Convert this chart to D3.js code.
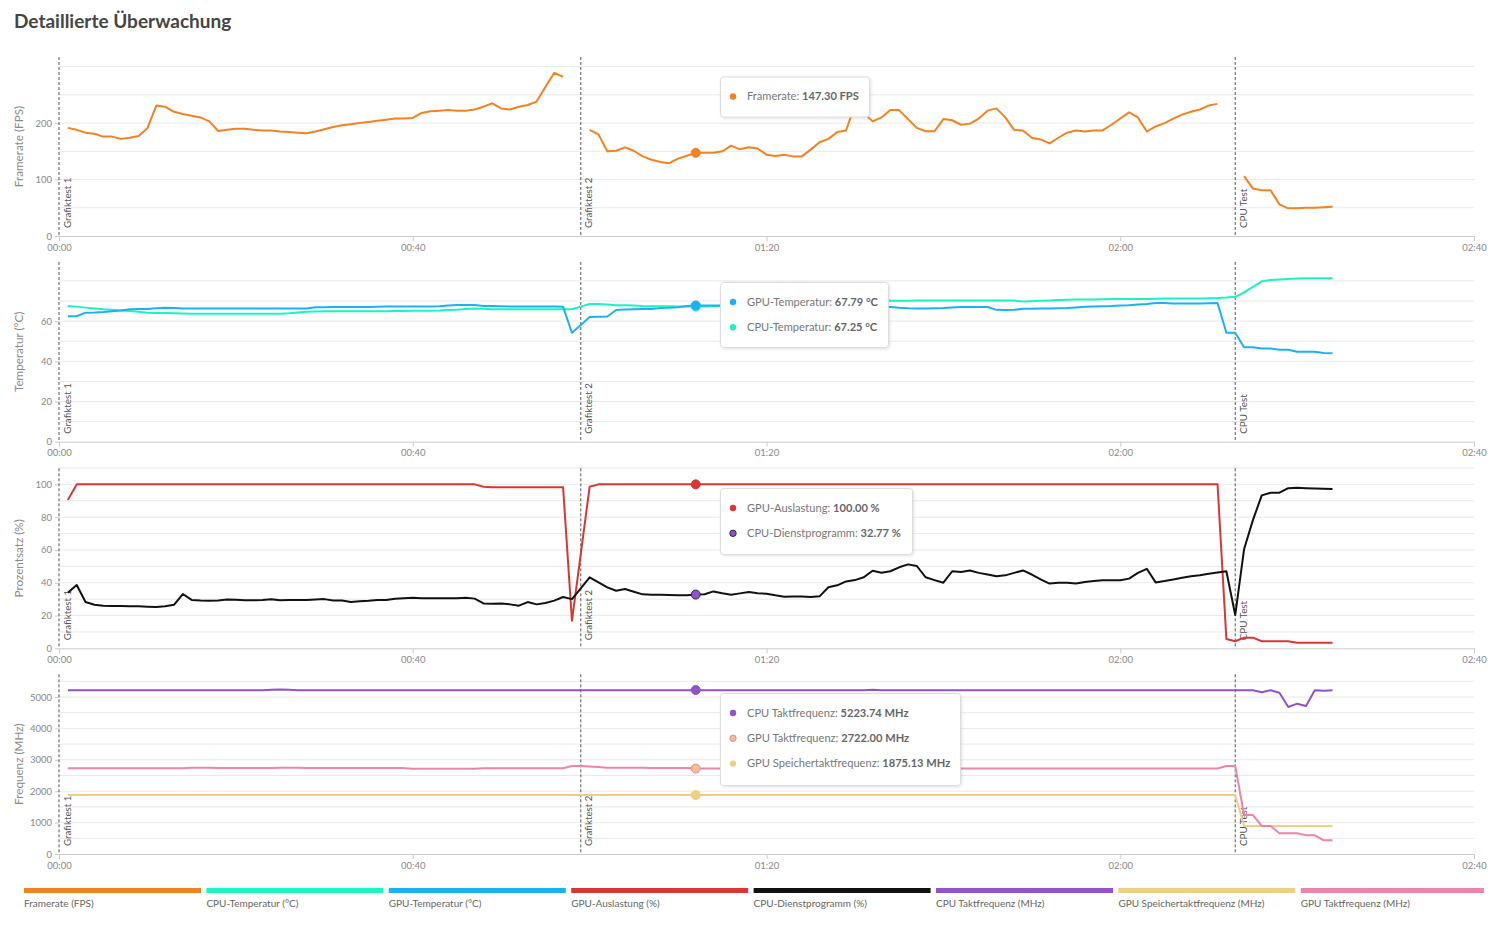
<!DOCTYPE html>
<html><head><meta charset="utf-8">
<script src="https://cdn.jsdelivr.net/npm/d3@7"></script>
<style>
body{margin:0;background:#fff;}
svg{display:block;}
text{font-family:Lato,"Open Sans",sans-serif;}
</style>
</head><body>
<svg id="chart" width="1507" height="928"></svg>
<script>
// ---------- DATA (one sample per second, first sample at t = 1 s) ----------
const firstSecond = 1;
const framerate = [191.5,188,183,181,176,176,172,174,177,191,
231,229,220,216,213,210,203,186,188,190,
190,188,187,187,185,184,183,182,185,189,
193,196,198,200,202,204,206,208,208,209,
218,221,222,223,222,222,224,229,235,226,
224,229,232,238,264,289,282,null,null,188,
180,150,151,157,151,141,135,131,129,137,
142,147.3,147.5,147.5,150,160,153.5,157,155,144,
141.5,144,141,141,153,166,172,184,187,232,
218,203,210,223,223,207,191.5,185.5,185.5,207,
205,197,199,208,222,226,210,188,187,174,
171,164,174,183,187,185,187,187,197,208,
219,210,185,194,200,208,215,220,224,231,
234,null,null,106,84,81,81,56,49,49,
50,50,51,52];
const cpuTemp = [67.5,67.2,66.7,66.3,65.9,65.6,65.3,65,64.6,64.2,
64,64,63.9,63.8,63.7,63.6,63.6,63.6,63.6,63.6,
63.6,63.6,63.6,63.6,63.7,63.9,64.3,64.6,64.8,64.9,
64.9,64.9,64.9,64.9,64.9,64.9,64.9,65,65,65.1,
65.1,65.2,65.3,65.5,65.7,66,66.3,66.1,65.9,65.9,
65.9,65.9,65.9,65.9,65.9,65.9,65.9,65.9,67.2,68.5,
68.5,68.2,67.9,67.9,67.8,67.5,67.4,67.4,67.4,67.3,
67.3,67.25,67.3,67.4,67.5,67.6,67.8,68,68.2,68.4,
68.6,68.8,69,69.2,69.4,69.5,69.6,69.7,69.8,69.9,
70,70,70,70.1,70.1,70.1,70.2,70.2,70.2,70.2,
70.2,70.2,70.2,70.2,70.2,70.2,70.2,70.2,69.7,69.9,
70.1,70.3,70.5,70.6,70.7,70.8,70.8,70.9,71,71,
71,71,71,71.1,71.2,71.2,71.3,71.3,71.3,71.4,
71.5,71.7,72.1,74.3,77,79.8,80.4,80.7,81,81.2,
81.3,81.3,81.3,81.3];
const gpuTemp = [62.4,62.4,64.2,64.3,64.5,64.9,65.3,65.9,66,66,
66.4,66.7,66.5,66.3,66.3,66.3,66.3,66.3,66.3,66.3,
66.3,66.3,66.3,66.3,66.3,66.3,66.3,66.3,66.9,66.9,
67,67,67,67,67,67.1,67.2,67.2,67.2,67.2,
67.2,67.2,67.4,67.8,68,68,68,67.5,67.5,67.4,
67.2,67.2,67.2,67.2,67.2,67.2,67.1,54.2,58,62,
62.2,62.3,65.5,65.8,65.9,66,66,66.5,66.6,66.9,
67.5,67.79,67.8,67.8,67.8,67.8,67.8,67.8,67.8,67.8,
67.7,67.6,67.6,67.6,67.6,67.6,67.6,67.5,67.5,67.5,
67.3,67.2,67,67,66.6,66.4,66.3,66.3,66.4,66.5,
66.8,67,67,67,67,65.6,65.5,65.6,66.1,66.2,
66.3,66.3,66.4,66.5,66.8,67.1,67.3,67.4,67.5,67.7,
67.9,68.2,68.5,69,69,68.8,68.7,68.7,68.8,68.9,
69,54.2,54.2,47,47,46.4,46.4,45.7,45.7,44.8,
44.8,44.8,44.1,44];
const gpuLoad = [90.4,100,100,100,100,100,100,100,100,100,
100,100,100,100,100,100,100,100,100,100,
100,100,100,100,100,100,100,100,100,100,
100,100,100,100,100,100,100,100,100,100,
100,100,100,100,100,100,100,98.6,98.2,98.2,
98.2,98.2,98.2,98.2,98.2,98.2,98.2,16.8,57.6,98.5,
100,100,100,100,100,100,100,100,100,100,
100,100,100,100,100,100,100,100,100,100,
100,100,100,100,100,100,100,100,100,100,
100,100,100,100,100,100,100,100,100,100,
100,100,100,100,100,100,100,100,100,100,
100,100,100,100,100,100,100,100,100,100,
100,100,100,100,100,100,100,100,100,100,
100,5.7,4.3,6.5,6.5,4.3,4.3,4.3,4.3,3.4,
3.4,3.4,3.4,3.4];
const cpuUtil = [33.9,38.6,28.2,26.6,26,25.8,25.8,25.7,25.6,25.4,
25.2,25.6,26.5,33.1,29.5,29.1,29,29.1,29.7,29.6,
29.3,29.3,29.5,29.9,29.3,29.4,29.4,29.4,29.8,30,
29.2,29.2,28.2,28.7,29,29.5,29.5,30.2,30.5,30.9,
30.6,30.6,30.6,30.6,30.5,30.8,30.3,27.4,27.2,27.4,
26.8,26,28.2,26.8,27.6,29.1,31.3,30,36.5,43.3,
40.2,37.2,35.1,36.2,34.5,32.9,32.7,32.6,32.5,32.3,
32.3,32.77,33,34.7,33.6,32.7,33.5,34.3,33.6,33.3,
32.3,31.5,31.6,31.6,31.3,31.7,37.2,38.4,40.8,41.6,
43.3,47.3,46.1,47,49.4,51.2,50.2,43.3,41.6,40,
47,46.5,47.5,46,45,44,44.5,46,47.5,45,
42,39.5,40,40,39.5,40.5,41,41.5,41.5,41.5,
42.5,46,48.5,40.2,41,42,43,44,44.5,45.5,
46.3,47,20.3,60.4,78.2,93.3,94.9,94.9,97.7,98,
97.7,97.5,97.3,97.1];
const cpuClock = [5215,5215,5215,5215,5215,5215,5215,5215,5215,5215,
5215,5215,5215,5215,5215,5215,5215,5215,5215,5215,
5215,5215,5215,5230,5238,5230,5215,5215,5215,5215,
5215,5215,5215,5215,5215,5215,5215,5215,5215,5215,
5215,5215,5215,5215,5215,5215,5215,5215,5215,5215,
5215,5215,5215,5215,5215,5215,5215,5215,5215,5215,
5215,5215,5215,5215,5215,5215,5215,5215,5215,5215,
5215,5223.74,5215,5215,5215,5215,5215,5215,5215,5215,
5215,5215,5215,5215,5215,5215,5215,5215,5215,5215,
5215,5228,5215,5215,5215,5215,5215,5215,5215,5215,
5215,5215,5215,5215,5215,5215,5215,5215,5215,5215,
5215,5215,5215,5215,5215,5215,5215,5215,5215,5215,
5215,5215,5215,5215,5215,5215,5215,5215,5215,5215,
5215,5215,5215,5215,5215,5150,5213,5137,4682,4788,
4713,5213,5200,5213];
const gpuMemClock = [1875.13,1875.13,1875.13,1875.13,1875.13,1875.13,1875.13,1875.13,1875.13,1875.13,
1875.13,1875.13,1875.13,1875.13,1875.13,1875.13,1875.13,1875.13,1875.13,1875.13,
1875.13,1875.13,1875.13,1875.13,1875.13,1875.13,1875.13,1875.13,1875.13,1875.13,
1875.13,1875.13,1875.13,1875.13,1875.13,1875.13,1875.13,1875.13,1875.13,1875.13,
1875.13,1875.13,1875.13,1875.13,1875.13,1875.13,1875.13,1875.13,1875.13,1875.13,
1875.13,1875.13,1875.13,1875.13,1875.13,1875.13,1875.13,1875.13,1875.13,1875.13,
1875.13,1875.13,1875.13,1875.13,1875.13,1875.13,1875.13,1875.13,1875.13,1875.13,
1875.13,1875.13,1875.13,1875.13,1875.13,1875.13,1875.13,1875.13,1875.13,1875.13,
1875.13,1875.13,1875.13,1875.13,1875.13,1875.13,1875.13,1875.13,1875.13,1875.13,
1875.13,1875.13,1875.13,1875.13,1875.13,1875.13,1875.13,1875.13,1875.13,1875.13,
1875.13,1875.13,1875.13,1875.13,1875.13,1875.13,1875.13,1875.13,1875.13,1875.13,
1875.13,1875.13,1875.13,1875.13,1875.13,1875.13,1875.13,1875.13,1875.13,1875.13,
1875.13,1875.13,1875.13,1875.13,1875.13,1875.13,1875.13,1875.13,1875.13,1875.13,
1875.13,1875.13,1875.13,892,892,892,892,892,892,892,
892,892,892,892];
const gpuClock = [2729,2729,2729,2729,2729,2729,2729,2729,2729,2729,
2729,2729,2729,2729,2750,2750,2750,2735,2735,2735,
2735,2735,2735,2735,2750,2750,2750,2735,2735,2735,
2735,2735,2735,2735,2735,2735,2735,2735,2735,2712,
2712,2712,2712,2712,2712,2712,2712,2729,2729,2729,
2729,2729,2729,2729,2729,2729,2729,2803,2800,2790,
2770,2745,2745,2745,2745,2745,2735,2735,2735,2735,
2735,2722,2722,2722,2722,2722,2722,2722,2722,2722,
2722,2722,2722,2722,2722,2722,2722,2722,2722,2722,
2722,2722,2722,2722,2722,2722,2722,2722,2722,2722,
2722,2722,2722,2722,2722,2722,2722,2722,2722,2722,
2722,2722,2722,2722,2722,2722,2722,2722,2722,2722,
2722,2722,2722,2722,2722,2722,2722,2722,2722,2722,
2722,2803,2803,1242,1242,892,892,658,658,658,
594,594,435,435];

const testMarkers = [0, 59, 133];
const testLabels = ["Grafiktest 1", "Grafiktest 2", "CPU Test"];
const xTicks = [0, 40, 80, 120, 160];
const xTickLabels = ["00:00", "00:40", "01:20", "02:00", "02:40"];
const hoverSecond = 72;

const legendNames = ["Framerate (FPS)","CPU-Temperatur (°C)","GPU-Temperatur (°C)","GPU-Auslastung (%)","CPU-Dienstprogramm (%)","CPU Taktfrequenz (MHz)","GPU Speichertaktfrequenz (MHz)","GPU Taktfrequenz (MHz)"];
const legendColors = ["#f58220","#19f5c1","#1bb2f5","#d93636","#111111","#9153cc","#edd083","#ee84ab"];

// ---------- LAYOUT ----------
const svg = d3.select("#chart");
const x = d3.scaleLinear().domain([0,160]).range([59,1474]);

const panels = [
  {title:"Framerate (FPS)", bottom:236, top:57, max:317, gridStep:50, gridMax:300, labels:[0,100,200],
   series:[{data:framerate,color:"#f58220",name:"Framerate",unit:"FPS",dot:"#f58220",dotStroke:"#f58220"}],
   tip:{x:720,y:76.5,w:149,h:40}},
  {title:"Temperatur (°C)", bottom:441.7, top:262, max:89.4, gridStep:10, gridMax:80, labels:[0,20,40,60],
   series:[{data:cpuTemp,color:"#19f5c1",name:"CPU-Temperatur",unit:"°C",dot:"#19f5c1",dotStroke:"#19f5c1"},
           {data:gpuTemp,color:"#1bb2f5",name:"GPU-Temperatur",unit:"°C",dot:"#1bb2f5",dotStroke:"#1bb2f5"}],
   tipOrder:[1,0], tip:{x:720,y:282,w:168,h:65}},
  {title:"Prozentsatz (%)", bottom:648.3, top:468.3, max:109.8, gridStep:10, gridMax:110, labels:[0,20,40,60,80,100],
   series:[{data:gpuLoad,color:"#d93636",name:"GPU-Auslastung",unit:"%",dot:"#d93636",dotStroke:"#d93636"},
           {data:cpuUtil,color:"#111111",name:"CPU-Dienstprogramm",unit:"%",dot:"#9153cc",dotStroke:"#3a2450"}],
   tipOrder:[0,1], tip:{x:720,y:488,w:192,h:66}},
  {title:"Frequenz (MHz)", bottom:854, top:674.3, max:5723, gridStep:500, gridMax:5500, labels:[0,1000,2000,3000,4000,5000],
   series:[{data:gpuMemClock,color:"#edd083",name:"GPU Speichertaktfrequenz",unit:"MHz",dot:"#edd083",dotStroke:"#edd083"},
           {data:gpuClock,color:"#ee84ab",name:"GPU Taktfrequenz",unit:"MHz",dot:"#f2c08e",dotStroke:"#ee84ab"},
           {data:cpuClock,color:"#9153cc",name:"CPU Taktfrequenz",unit:"MHz",dot:"#9153cc",dotStroke:"#9153cc"}],
   tipOrder:[2,1,0], tip:{x:720,y:693,w:240,h:92}}
];

// title
svg.append("text").attr("x",14).attr("y",27.5).attr("font-size",19).attr("font-weight",700)
  .attr("fill","#454545").text("Detaillierte Überwachung");

const defs = svg.append("defs");
const f = defs.append("filter").attr("id","shadow").attr("x","-10%").attr("y","-10%").attr("width","130%").attr("height","140%");
f.append("feDropShadow").attr("dx",1).attr("dy",1).attr("stdDeviation",1.5).attr("flood-color","#000").attr("flood-opacity",0.12);

panels.forEach(p => {
  const y = d3.scaleLinear().domain([0,p.max]).range([p.bottom,p.top]);
  const g = svg.append("g");
  // grid
  const gridVals = d3.range(p.gridStep, p.gridMax + 0.001, p.gridStep);
  g.selectAll(".grid").data(gridVals).join("line")
    .attr("x1",59).attr("x2",1474).attr("y1",d=>y(d)).attr("y2",d=>y(d))
    .attr("stroke","#e9e9e9").attr("stroke-width",1);
  // x axis
  const xa = g.append("g").attr("transform",`translate(0,${p.bottom})`)
    .call(d3.axisBottom(x).tickValues(xTicks).tickFormat((d,i)=>xTickLabels[i]).tickSizeOuter(0).tickSize(5).tickPadding(3));
  xa.select(".domain").attr("stroke","#cccccc");
  xa.selectAll(".tick line").attr("stroke","#cccccc");
  xa.selectAll(".tick text").attr("fill","#888").attr("font-size",9.5).attr("font-family","Lato, sans-serif");
  // y axis labels
  const ya = g.append("g").attr("transform","translate(59,0)")
    .call(d3.axisLeft(y).tickValues(p.labels).tickFormat(d3.format("d")).tickSize(4).tickPadding(3).tickSizeOuter(0));
  ya.select(".domain").remove();
  ya.selectAll(".tick line").attr("stroke","#cccccc");
  ya.selectAll(".tick text").attr("fill","#888").attr("font-size",9.5).attr("font-family","Lato, sans-serif");
  // y title
  g.append("text").attr("transform",`translate(23,${(p.top+p.bottom)/2}) rotate(-90)`)
    .attr("text-anchor","middle").attr("font-size",11.7).attr("fill","#8a8a8a").text(p.title);
  // markers
  testMarkers.forEach((t,i)=>{
    g.append("line").attr("x1",x(t)).attr("x2",x(t)).attr("y1",p.top).attr("y2",p.bottom)
      .attr("stroke","#555").attr("stroke-width",1).attr("stroke-dasharray","3,2");
    g.append("text").attr("transform",`translate(${x(t)+11.5},${p.bottom-8}) rotate(-90)`)
      .attr("font-size",9.8).attr("fill","#555").text(testLabels[i]);
  });
  // lines
  p.series.forEach(s=>{
    const line = d3.line().defined(d=>d!=null).x((d,i)=>x(firstSecond+i)).y(d=>y(d));
    g.append("path").datum(s.data).attr("d",line).attr("fill","none")
      .attr("stroke",s.color).attr("stroke-width",2).attr("stroke-linejoin","round");
  });
  // hover dots
  p.series.forEach(s=>{
    const v = s.data[hoverSecond-firstSecond];
    g.append("circle").attr("cx",x(hoverSecond)).attr("cy",y(v)).attr("r",4.5)
      .attr("fill",s.dot).attr("stroke",s.dotStroke).attr("stroke-width",1);
  });
  // tooltip
  const tp = p.tip;
  const tg = svg.append("g");
  tg.append("rect").attr("x",tp.x+0.5).attr("y",tp.y+0.5).attr("width",tp.w).attr("height",tp.h).attr("rx",3)
    .attr("fill","#fff").attr("stroke","#dcdcdc").attr("stroke-width",1).attr("filter","url(#shadow)");
  const order = p.tipOrder || [0];
  order.forEach((si,row)=>{
    const s = p.series[si];
    const v = s.data[hoverSecond-firstSecond];
    const cy = tp.y + 20 + row*25.3;
    tg.append("circle").attr("cx",tp.x+13).attr("cy",cy).attr("r",3.2).attr("fill",s.dot)
      .attr("stroke",s.dotStroke==s.dot?"none":s.dotStroke).attr("stroke-width",1);
    const tx = tg.append("text").attr("x",tp.x+27).attr("y",cy+3.8).attr("font-size",11.1)
      .attr("font-family","'Open Sans', sans-serif").attr("fill","#777");
    tx.append("tspan").text(s.name+": ");
    tx.append("tspan").attr("font-weight",700).attr("fill","#666").text(d3.format(".2f")(v)+" "+s.unit);
  });
});

// legend
const lg = svg.append("g");
legendNames.forEach((n,i)=>{
  const lx = 24 + i*182.4;
  const w = i === legendNames.length - 1 ? 1484 - lx : 177;
  lg.append("rect").attr("x",lx).attr("y",888).attr("width",w).attr("height",5).attr("fill",legendColors[i]);
  lg.append("text").attr("x",lx).attr("y",907).attr("font-size",10).attr("fill","#666").text(n);
});
</script>
</body></html>
